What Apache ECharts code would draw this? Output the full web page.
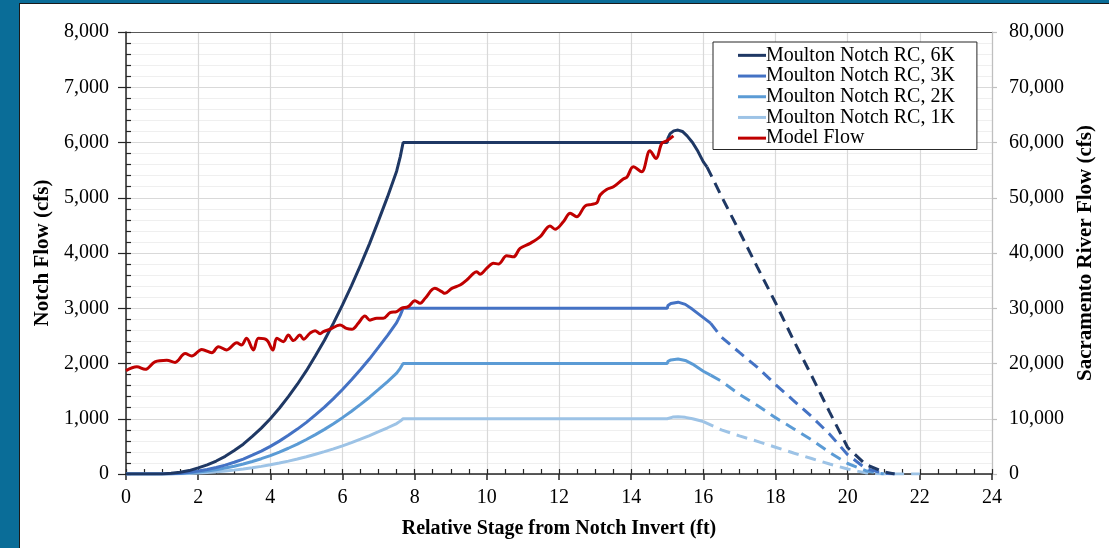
<!DOCTYPE html>
<html>
<head>
<meta charset="utf-8">
<script src="https://cdn.jsdelivr.net/npm/echarts@6/dist/echarts.min.js"></script>
<style>
  html, body { margin: 0; padding: 0; width: 1109px; height: 548px; overflow: hidden; background: #0a6d98; }
  #panel { position: absolute; left: 19px; top: 3px; right: 0; bottom: 0; background: #ffffff; border-left: 1px solid #1a1a1a; border-top: 1px solid #1a1a1a; }
  #chart { position: absolute; left: 0; top: 0; width: 1109px; height: 548px; }
</style>
</head>
<body>
<div id="panel"></div>
<div id="chart"></div>
<script>
// ---------- DATA ----------
const xTickLabels = [0, 2, 4, 6, 8, 10, 12, 14, 16, 18, 20, 22, 24];

const rc6KSolid = [[0,0],[0.8,0],[1.0,2],[1.25,12],[1.5,30],[1.75,62],[2,110],[2.25,165],[2.5,235],[2.75,320],[3,425],[3.25,540],[3.5,680],[3.75,830],[4,1000],[4.25,1190],[4.5,1400],[4.75,1625],[5,1870],[5.25,2140],[5.5,2420],[5.75,2730],[6,3060],[6.25,3410],[6.5,3780],[6.75,4170],[7,4590],[7.25,5020],[7.5,5480],[7.6,5740],[7.68,6000],[15.0,6000],[15.02,6080],[15.08,6160],[15.18,6210],[15.3,6225],[15.42,6200],[15.55,6120],[15.7,6000],[15.85,5840],[16.0,5650],[16.1,5560]];
const rc6KDash = [[16.1,5560],[16.5,5030],[17,4390],[17.5,3740],[18,3100],[18.5,2420],[19,1780],[19.5,1120],[20,480],[20.5,170],[21,40],[21.3,0]];

const rc3KSolid = [[0,0],[0.8,0],[1,1],[1.25,6],[1.5,15],[1.75,31],[2,55],[2.25,83],[2.5,118],[2.75,160],[3,212],[3.25,270],[3.5,340],[3.75,415],[4,500],[4.25,595],[4.5,700],[4.75,813],[5,935],[5.25,1070],[5.5,1210],[5.75,1365],[6,1530],[6.25,1705],[6.5,1890],[6.75,2085],[7,2295],[7.25,2510],[7.5,2740],[7.6,2870],[7.68,3000],[15.0,3000],[15.02,3050],[15.1,3085],[15.3,3110],[15.5,3070],[15.7,2980],[16.0,2830],[16.2,2730]];
const rc3KDash = [[16.2,2730],[16.5,2480],[17,2200],[17.5,1930],[18,1620],[18.5,1330],[19,1040],[19.5,720],[20,350],[20.5,100],[21,10],[21.3,0]];

const rc2KSolid = [[0,0],[0.8,0],[1.25,4],[1.5,10],[1.75,21],[2,37],[2.25,55],[2.5,78],[2.75,107],[3,141],[3.25,180],[3.5,227],[3.75,277],[4,333],[4.25,397],[4.5,466],[4.75,542],[5,624],[5.25,713],[5.5,808],[5.75,910],[6,1020],[6.25,1137],[6.5,1260],[6.75,1390],[7,1530],[7.25,1673],[7.5,1827],[7.6,1913],[7.68,2000],[15.0,2000],[15.02,2040],[15.1,2065],[15.3,2080],[15.5,2055],[15.7,1990],[16.0,1860],[16.2,1790]];
const rc2KDash = [[16.2,1790],[16.5,1680],[17,1440],[17.5,1240],[18,1020],[18.5,820],[19,620],[19.5,390],[20,190],[20.5,60],[21,0]];

const rc1KSolid = [[0,0],[0.8,0],[1.25,2],[1.5,5],[1.75,10],[2,18],[2.25,28],[2.5,39],[2.75,53],[3,70],[3.25,90],[3.5,113],[3.75,138],[4,167],[4.25,198],[4.5,233],[4.75,271],[5,312],[5.25,357],[5.5,404],[5.75,455],[6,510],[6.25,568],[6.5,630],[6.75,695],[7,765],[7.25,837],[7.5,913],[7.6,957],[7.68,1000],[15.0,1000],[15.02,1020],[15.15,1030],[15.3,1035],[15.5,1025],[15.7,1000],[16.0,950]];
const rc1KDash = [[16.0,950],[16.5,800],[17,690],[17.5,590],[18,485],[18.5,380],[19,280],[19.5,180],[20,90],[20.5,20],[21,0],[22,0]];

const modelFlow = [[0,18700],[0.3,19400],[0.53,18950],[0.8,20300],[1.13,20600],[1.36,20200],[1.64,21800],[1.82,21350],[2.1,22550],[2.38,21950],[2.56,23050],[2.79,22450],[3.07,23750],[3.2,23350],[3.34,24550],[3.53,22450],[3.67,24550],[3.9,24250],[4.07,22450],[4.18,24550],[4.36,23950],[4.5,25150],[4.64,24150],[4.82,25150],[4.92,24400],[5.1,25500],[5.24,25950],[5.38,25400],[5.47,25750],[5.65,26200],[5.93,26950],[6.11,26350],[6.26,26200],[6.44,27300],[6.62,28600],[6.76,27850],[6.95,28200],[7.13,28200],[7.32,29200],[7.5,29400],[7.64,30000],[7.82,30300],[8.01,31350],[8.15,30900],[8.29,31800],[8.56,33600],[8.75,33000],[8.84,32700],[9.03,33600],[9.26,34200],[9.44,35100],[9.63,36300],[9.72,36600],[9.81,36150],[10.0,37250],[10.18,38150],[10.32,38000],[10.55,39500],[10.74,39300],[10.92,40850],[11.2,41750],[11.48,42950],[11.75,44900],[11.89,44300],[12.12,45650],[12.31,47200],[12.49,46550],[12.72,48500],[12.91,48800],[13.05,49100],[13.14,50500],[13.32,51500],[13.51,52000],[13.78,53400],[13.88,53700],[14.06,55600],[14.29,54700],[14.52,58500],[14.69,57100],[14.85,59850],[14.99,60300],[15.17,61200]];

const names = ['Moulton Notch RC, 6K', 'Moulton Notch RC, 3K', 'Moulton Notch RC, 2K', 'Moulton Notch RC, 1K', 'Model Flow'];
const colors = ['#1f3864', '#4472c4', '#5b9bd5', '#9dc3e6', '#c00000'];

// ---------- CHART ----------
const FONT = '"Liberation Serif", "Times New Roman", serif';
const fmt = v => Number(v).toLocaleString('en-US');
const chart = echarts.init(document.getElementById('chart'), null, { renderer: 'canvas' });

function solid(i, data) {
  return { name: names[i], type: 'line', data: data, symbol: 'none', showSymbol: false, smooth: false,
    xAxisIndex: 0, yAxisIndex: 0, color: colors[i],
    lineStyle: { color: colors[i], width: 3 }, z: 3 + (4 - i) };
}
function dashed(i, data) {
  return { name: names[i] + ' (ext)', type: 'line', data: data, symbol: 'none', showSymbol: false, smooth: false,
    xAxisIndex: 0, yAxisIndex: 0, color: colors[i],
    lineStyle: { color: colors[i], width: 3, type: [11, 7] }, z: 3 + (4 - i) };
}

const option = {
  animation: false,
  backgroundColor: 'transparent',
  textStyle: { fontFamily: FONT },
  grid: { left: 126, right: 117, top: 32, bottom: 74, containLabel: false },
  legend: {
    data: names.map((n, i) => ({ name: n, icon: 'rect', itemStyle: { color: colors[i] } })),
    orient: 'vertical',
    left: 713, top: 42,
    backgroundColor: '#ffffff',
    borderColor: '#262626', borderWidth: 1, borderRadius: 0,
    padding: [3, 22, 1, 25],
    itemWidth: 28, itemHeight: 3, itemGap: 0,
    textStyle: { fontFamily: FONT, fontSize: 20, color: '#000', lineHeight: 20.7, padding: [0, 0, 0, -5] }
  },
  xAxis: [
    {
      type: 'value', min: 0, max: 24, interval: 2, position: 'bottom',
      name: 'Relative Stage from Notch Invert (ft)', nameLocation: 'middle', nameGap: 45,
      nameTextStyle: { fontFamily: FONT, fontSize: 20, fontWeight: 'bold', color: '#000' },
      axisLine: { show: true, onZero: false, lineStyle: { color: '#262626', width: 1.5 } },
      axisTick: { show: true, inside: false, length: 6, lineStyle: { color: '#262626', width: 1.5 } },
      axisLabel: { fontFamily: FONT, fontSize: 20, color: '#000', margin: 14, formatter: v => xTickLabels.indexOf(v) >= 0 ? String(v) : '' },
      splitLine: { show: true, lineStyle: { color: '#d9d9d9', width: 1.2 } }
    },
    {
      type: 'value', min: 0, max: 24, interval: 0.5, position: 'bottom',
      axisLine: { show: false },
      axisTick: { show: true, inside: true, length: 5, lineStyle: { color: '#262626', width: 1.2 } },
      axisLabel: { show: false }, splitLine: { show: false }
    },
    {
      type: 'value', min: 0, max: 24, interval: 2, position: 'top',
      axisLine: { show: true, onZero: false, lineStyle: { color: '#595959', width: 1.2 } },
      axisTick: { show: false }, axisLabel: { show: false }, splitLine: { show: false }
    }
  ],
  yAxis: [
    {
      type: 'value', min: 0, max: 8000, interval: 1000, position: 'left',
      name: 'Notch Flow (cfs)', nameLocation: 'middle', nameGap: 71,
      nameTextStyle: { fontFamily: FONT, fontSize: 21, fontWeight: 'bold', color: '#000' },
      axisLine: { show: true, onZero: false, lineStyle: { color: '#262626', width: 1.5 } },
      axisTick: { show: true, inside: false, length: 8, lineStyle: { color: '#262626', width: 1.2 } },
      axisLabel: { fontFamily: FONT, fontSize: 20, color: '#000', margin: 17, formatter: fmt },
      splitLine: { show: true, lineStyle: { color: '#d9d9d9', width: 1.2 } },
      minorTick: { show: false, splitNumber: 5 },
      minorSplitLine: { show: true, lineStyle: { color: '#efefef', width: 1 } }
    },
    {
      type: 'value', min: 0, max: 80000, interval: 10000, position: 'right',
      name: 'Sacramento River Flow (cfs)', nameLocation: 'middle', nameGap: 82,
      nameTextStyle: { fontFamily: FONT, fontSize: 21, fontWeight: 'bold', color: '#000' },
      axisLine: { show: true, onZero: false, lineStyle: { color: '#bfbfbf', width: 1.2 } },
      axisTick: { show: true, inside: false, length: 5, lineStyle: { color: '#bfbfbf', width: 1.2 } },
      axisLabel: { fontFamily: FONT, fontSize: 20, color: '#000', margin: 17, formatter: fmt },
      splitLine: { show: false }
    },
    {
      type: 'value', min: 0, max: 8000, interval: 200, position: 'left',
      axisLine: { show: false },
      axisTick: { show: true, inside: true, length: 5, lineStyle: { color: '#262626', width: 1.2 } },
      axisLabel: { show: false }, splitLine: { show: false }
    }
  ],
  series: [
    solid(3, rc1KSolid), dashed(3, rc1KDash),
    solid(2, rc2KSolid), dashed(2, rc2KDash),
    solid(1, rc3KSolid), dashed(1, rc3KDash),
    solid(0, rc6KSolid), dashed(0, rc6KDash),
    { name: names[4], type: 'line', data: modelFlow, symbol: 'none', showSymbol: false, smooth: 0.35,
      xAxisIndex: 0, yAxisIndex: 1, color: colors[4],
      lineStyle: { color: colors[4], width: 3 }, z: 10 }
  ]
};
chart.setOption(option);
</script>
</body>
</html>
